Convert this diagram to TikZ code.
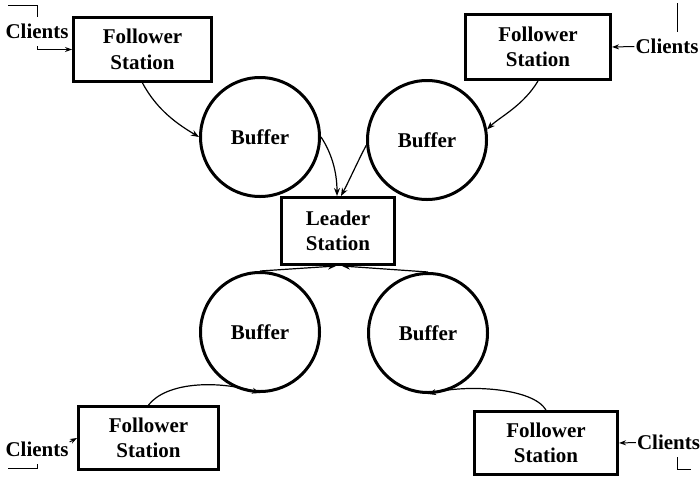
\documentclass[tikz,border=0pt]{standalone}
\usepackage{fontspec}
\setmainfont{Liberation Serif}
\usetikzlibrary{arrows.meta}
\begin{document}
\begin{tikzpicture}[x=1pt,y=-1pt,
  lbl/.style={font=\fontsize{21}{25.5}\selectfont\bfseries, align=center},
  station/.style={lbl, draw, line width=3pt, inner sep=0pt},
  buffer/.style={lbl, draw, circle, line width=3pt, minimum size=119pt, inner sep=0pt},
  clients/.style={lbl, inner xsep=1pt, inner ysep=7pt},
  flow/.style={line width=1.2pt, -{Stealth[length=8pt,width=6pt]}},
  tick/.style={line width=1pt}]
\useasboundingbox (0,0) rectangle (700,480);

% stations
\node[station, minimum width=138pt, minimum height=64pt] (tlf) at (142.5,49.5) {Follower\\Station};
\node[station, minimum width=145pt, minimum height=65pt] (trf) at (538,47) {Follower\\Station};
\node[station, minimum width=113pt, minimum height=67pt] (ld) at (338,231) {Leader\\Station};
\node[station, minimum width=140pt, minimum height=63pt] (blf) at (148.5,438) {Follower\\Station};
\node[station, minimum width=143pt, minimum height=63pt] (brf) at (546,443) {Follower\\Station};

% buffers
\node[buffer] (tlb) at (260,137) {Buffer};
\node[buffer] (trb) at (427,140) {Buffer};
\node[buffer] (blb) at (260,332) {Buffer};
\node[buffer] (brb) at (428,333) {Buffer};

% client labels
\node[clients] (cltl) at (37,31.5) {Clients};
\node[clients] (cltr) at (667,46.5) {Clients};
\node[clients] (clbl) at (37,449.5) {Clients};
\node[clients] (clbr) at (668.5,442.5) {Clients};

% followers into buffers
\draw[flow] (tlf.south) .. controls +(15,28) and +(-20,-12) .. (tlb.west);
\draw[flow] (trf.south) .. controls +(-15,25) and +(12,-12) .. (trb.10);
\draw[flow] (blf.north) .. controls +(18,-23) and +(-43,-13) .. (blb.south);
\draw[flow] (brf.north) .. controls +(-13,-22) and +(40,-10) .. (brb.south);

% buffers into the leader
\draw[flow] (tlb.east) .. controls +(10,15) and +(0,-25) .. ([xshift=-1pt]ld.north);
\draw[flow] (trb.185) .. controls +(-8,15) and +(8,-15) .. ([xshift=3pt]ld.north);
\draw[flow] (blb.north) -- ([xshift=-2pt]ld.south);
\draw[flow] (brb.north) -- ([xshift=4pt]ld.south);

% clients into followers
\draw[tick] (8,5) -| (cltl.north);
\draw[tick, -{Stealth[length=7pt,width=5pt]}] (cltl.south) |- (tlf.west);
\draw[tick, -{Stealth[length=7pt,width=5pt]}] (cltr.west) -- (trf.east);
\draw[tick] ([xshift=10pt]cltr.north) -- ++(0,-29);
\draw[tick, -{Stealth[length=7pt,width=5pt]}] ([yshift=-7pt]clbl.north east) -- (blf.west);
\draw[tick] (clbl.south) -- ++(0,4) -- ++(-29,0);
\draw[tick, -{Stealth[length=7pt,width=5pt]}] (clbr.west) -- (brf.east);
\draw[tick] ([xshift=8.5pt]clbr.south) -- ++(0,12) -- ++(14,0);
\end{tikzpicture}
\end{document}
